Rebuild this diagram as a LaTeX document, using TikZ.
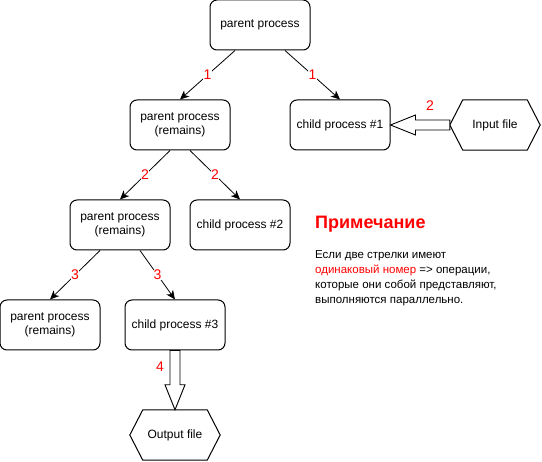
\documentclass[tikz,border=0pt]{standalone}
\usepackage{fontspec}
\setmainfont{Liberation Sans}
\usepackage{xcolor}
\usepackage{tikz}
\usetikzlibrary{arrows.meta,positioning,calc}

\definecolor{numred}{RGB}{255,0,0}

\tikzset{
  proc/.style={draw, rounded corners=7pt, line width=1pt, minimum width=100pt,
    minimum height=50pt, align=center, font=\fontsize{12}{14.5}\selectfont},
  filebox/.style={minimum width=90pt, minimum height=50pt, inner sep=0pt,
    font=\fontsize{12}{14}\selectfont},
  flow/.style={line width=0.8pt, -{Stealth[length=9pt,width=8pt,inset=2.5pt]}},
  num/.style={text=numred, fill=white, inner sep=0.5pt, font=\fontsize{14}{16}\selectfont},
  hollow/.style={draw, line width=0.9pt, fill=white, line join=miter}
}

\begin{document}
\begin{tikzpicture}[x=1pt, y=-1pt]
\useasboundingbox (0,0) rectangle (542,462);

% process tree
\node[proc] (top) at (260,25) {parent process};
\node[proc] (rem1) at (180,125) {parent process\\(remains)};
\node[proc] (child1) at (340,125) {child process \#1};
\node[proc] (rem2) at (120,225) {parent process\\(remains)};
\node[proc] (child2) at (240,225) {child process \#2};
\node[proc] (rem3) at (50,325) {parent process\\(remains)};
\node[proc] (child3) at (175,325) {child process \#3};

% files
\node[filebox] (infile) at (495,125) {Input file};
\node[filebox] (outfile) at (175,435) {Output file};
\draw[line width=1pt] (infile.west) -- ([xshift=13pt]infile.north west) -- ([xshift=-13pt]infile.north east)
  -- (infile.east) -- ([xshift=-13pt]infile.south east) -- ([xshift=13pt]infile.south west) -- cycle;
\draw[line width=1pt] (outfile.west) -- ([xshift=13pt]outfile.north west) -- ([xshift=-13pt]outfile.north east)
  -- (outfile.east) -- ([xshift=-13pt]outfile.south east) -- ([xshift=13pt]outfile.south west) -- cycle;

% forks
\draw[flow] ([xshift=-25pt]top.south) -- node[num] (n1a) {1} (rem1.north);
\draw[flow] ([xshift=25pt]top.south) -- node[num] (n1b) {1} (child1.north);
\draw[flow] ([xshift=-10pt]rem1.south) -- node[num] (n2a) {2} (rem2.north);
\draw[flow] ([xshift=10pt]rem1.south) -- node[num] (n2b) {2} (child2.north);
\draw[flow] ([xshift=-20pt]rem2.south) -- node[num] (n3a) {3} (rem3.north);
\draw[flow] ([xshift=20pt]rem2.south) -- node[num] (n3b) {3} (child3.north);

% data flow
\draw[hollow] (child1.east) -- ++(25,-10) -- ++(0,5) -- ($(infile.west)+(0,-5)$)
  -- ($(infile.west)+(0,5)$) -- ($(child1.east)+(25,5)$) -- ++(0,5) -- cycle;
\node[num, fill=none] (n2c) at (430,106) {2};
\draw[hollow] (outfile.north) -- ++(-10,-25) -- ++(5,0) -- ($(child3.south)+(-5,0)$)
  -- ($(child3.south)+(5,0)$) -- ($(outfile.north)+(5,-25)$) -- ++(5,0) -- cycle;
\node[num, fill=none] (n4) at (160,367) {4};

% note
\node[anchor=base west, inner sep=0pt, text=numred, font=\fontsize{18}{20}\selectfont\bfseries] (notehead) at (315,229) {Примечание};
\node[anchor=north west, inner sep=0pt, align=left, font=\fontsize{11.5}{15}\selectfont] (notebody) at (315,250)
  {Если две стрелки имеют\\\textcolor{numred}{одинаковый номер} => операции,\\которые они собой представляют,\\выполняются параллельно.};
\end{tikzpicture}
\end{document}
